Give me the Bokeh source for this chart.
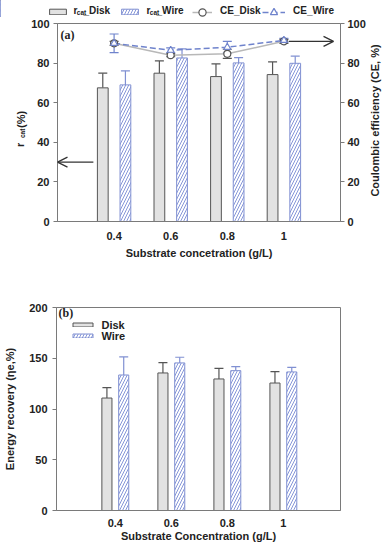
import math
from bokeh.plotting import figure
from bokeh.models import (Range1d, LinearAxis, FixedTicker, Whisker, TeeHead, ColumnDataSource,
                          Legend, LegendItem, Label, Arrow, OpenHead)
from bokeh.layouts import column, row
from bokeh.transform import dodge
from bokeh.embed import file_html
from bokeh.resources import INLINE

# ---------------- data ----------------
conc = [0.4, 0.6, 0.8, 1.0]
conc_labels = ["0.4", "0.6", "0.8", "1"]

rcat_disk = [67.5, 74.9, 73.2, 74.2]
rcat_disk_err = [7.4, 6.2, 6.4, 6.4]
rcat_wire = [69.0, 82.6, 80.1, 79.9]
rcat_wire_err = [7.1, 4.6, 2.7, 3.6]

ce_disk = [90.0, 84.0, 84.7, 91.0]
ce_disk_err = [1.0, 0.8, 2.3, 1.0]
ce_wire = [90.0, 86.5, 88.0, 91.5]
ce_wire_err = [4.7, 1.2, 3.0, 1.0]

er_disk = [110.8, 135.5, 129.6, 125.6]
er_disk_err = [10.2, 10.2, 10.5, 11.2]
er_wire = [133.5, 145.4, 137.8, 136.5]
er_wire_err = [17.8, 5.6, 4.0, 4.5]

rcat_ticks = [0, 20, 40, 60, 80, 100]
er_ticks = [0, 50, 100, 150, 200]

# ---------------- style ----------------
FONT = "Liberation Sans"
SERIF = "Liberation Serif"
AX = "#7a7a7a"
TXT = "#222222"
DISK_FILL = "#e2e2e2"
DISK_LINE = "#555555"
WIRE_LINE = "#8090d2"
WIRE_HATCH = "#8696d8"
CE_DISK_LINE = "#b8b8b8"
CE_WIRE_LINE = "#6f83cc"


def hi(v, e):
    return [a + b for a, b in zip(v, e)]


def lo(v, e):
    return [a - b for a, b in zip(v, e)]


src = ColumnDataSource(dict(
    conc=conc,
    rcat_disk=rcat_disk, rcat_disk_hi=hi(rcat_disk, rcat_disk_err),
    rcat_wire=rcat_wire, rcat_wire_hi=hi(rcat_wire, rcat_wire_err),
    ce_disk=ce_disk, ce_disk_hi=hi(ce_disk, ce_disk_err), ce_disk_lo=lo(ce_disk, ce_disk_err),
    ce_wire=ce_wire, ce_wire_hi=hi(ce_wire, ce_wire_err), ce_wire_lo=lo(ce_wire, ce_wire_err),
    er_disk=er_disk, er_disk_hi=hi(er_disk, er_disk_err),
    er_wire=er_wire, er_wire_hi=hi(er_wire, er_wire_err),
))

DISK_STYLE = dict(fill_color=DISK_FILL, line_color=DISK_LINE, line_width=1)
WIRE_STYLE = dict(fill_color="white", line_color=WIRE_LINE, line_width=1,
                  hatch_pattern="/", hatch_color=WIRE_HATCH, hatch_scale=6, hatch_weight=1)
CE_DISK_LSTYLE = dict(line_color=CE_DISK_LINE, line_width=1.5)
CE_WIRE_LSTYLE = dict(line_color=CE_WIRE_LINE, line_width=1.5, line_dash="6 3")
CE_DISK_MSTYLE = dict(marker="circle", size=7, fill_color="white", line_color=DISK_LINE, line_width=1.2)
CE_WIRE_MSTYLE = dict(marker="triangle", size=7, fill_color="white", line_color=CE_WIRE_LINE, line_width=1.2)


def style_fig(p):
    p.outline_line_color = AX
    p.outline_line_width = 1
    p.xgrid.visible = False
    p.ygrid.visible = False
    p.background_fill_color = "white"
    p.border_fill_color = "white"


def style_axis(ax, xaxis=False):
    ax.axis_line_color = AX
    ax.minor_tick_line_color = None
    ax.major_label_text_font = FONT
    ax.major_label_text_font_style = "bold"
    ax.major_label_text_font_size = "11px"
    ax.major_label_text_color = TXT
    ax.axis_label_text_font = FONT
    ax.axis_label_text_font_style = "bold"
    ax.axis_label_text_font_size = "11px"
    ax.axis_label_text_color = TXT
    if xaxis:
        ax.major_tick_line_color = None
        ax.major_tick_in = 0
        ax.major_tick_out = 0
        ax.ticker = FixedTicker(ticks=conc)
        ax.major_label_overrides = {c: l for c, l in zip(conc, conc_labels)}
    else:
        ax.major_tick_line_color = AX
        ax.major_tick_in = 0
        ax.major_tick_out = 4
        ax.major_label_standoff = 4


def icon_legend(items, x, y, gw, gh, spacing=0):
    return Legend(items=items, location=(x, y), orientation="vertical",
                  glyph_width=gw, glyph_height=gh, label_text_font_size="1px",
                  label_standoff=0, label_width=0, label_height=0, padding=0, margin=0,
                  spacing=spacing, border_line_color=None, background_fill_alpha=0)


def add_label(p, x, y, text, size="10px", bold=True, angle=0, align="left", font=FONT, color=TXT):
    p.add_layout(Label(x=x, y=y, text=text, text_font=font, text_font_size=size,
                       text_font_style="bold" if bold else "normal", angle=angle,
                       text_align=align, text_baseline="middle", text_color=color))


def blank_fig(w, h, x0, x1, y0, y1, top=0, bottom=0):
    # plain drawing strip whose data coordinates equal page pixels
    f = figure(width=w, height=h, x_range=Range1d(x0, x1), y_range=Range1d(y0, y1),
               x_axis_type=None, y_axis_type=None, output_backend="svg", toolbar_location=None,
               min_border=0, min_border_left=0, min_border_right=0,
               min_border_top=top, min_border_bottom=bottom)
    f.outline_line_color = None
    f.background_fill_color = "white"
    f.border_fill_color = "white"
    return f


# ================= legend strip for (a): its own root, page y 0..17 =================
LA = blank_fig(388, 17, 0, 388, 17, 0)
LA.extra_x_ranges = {"off": Range1d(100, 101)}   # legend-source glyphs kept out of view
l_rd = LA.vbar(x="conc", top="rcat_disk", width=0.038, source=src, x_range_name="off", **DISK_STYLE)
l_rw = LA.vbar(x="conc", top="rcat_wire", width=0.038, source=src, x_range_name="off", **WIRE_STYLE)
l_ld = LA.line("conc", "ce_disk", source=src, x_range_name="off", **CE_DISK_LSTYLE)
l_sd = LA.scatter("conc", "ce_disk", source=src, x_range_name="off", **CE_DISK_MSTYLE)
l_lw = LA.line("conc", "ce_wire", source=src, x_range_name="off", **CE_WIRE_LSTYLE)
l_sw = LA.scatter("conc", "ce_wire", source=src, x_range_name="off", **CE_WIRE_MSTYLE)
LA.add_layout(icon_legend([LegendItem(label=" ", renderers=[l_rd])], 47, 2, 21, 7))
LA.add_layout(icon_legend([LegendItem(label=" ", renderers=[l_rw])], 119, 2, 21, 7))
LA.add_layout(icon_legend([LegendItem(label=" ", renderers=[l_ld, l_sd])], 192, -4, 20, 18))
LA.add_layout(icon_legend([LegendItem(label=" ", renderers=[l_lw, l_sw])], 262, -4, 23, 18))
add_label(LA, 73, 9.5, "r", size="10px")
add_label(LA, 76.3, 12, "cat", size="6.5px")
add_label(LA, 83, 9.5, "_Disk", size="10px")
add_label(LA, 146, 9.5, "r", size="10px")
add_label(LA, 149.3, 12, "cat", size="6.5px")
add_label(LA, 156, 9.5, "_Wire", size="10px")
add_label(LA, 219.5, 9.5, "CE_Disk", size="10px")
add_label(LA, 292.5, 9.5, "CE_Wire", size="10px")

# ================= left / right title strips for (a): frames span page y 23..221 =================
YA = blank_fig(28, 259, 0, 28, 221, 23, top=6, bottom=55)
add_label(YA, 19.5, 146.5, "r", size="11px", angle=math.pi / 2)
add_label(YA, 22, 137.5, "cat", size="6.5px", angle=math.pi / 2)
add_label(YA, 20, 127.5, "(%)", size="11px", angle=math.pi / 2)

RA = blank_fig(20, 259, 368, 388, 221, 23, top=6, bottom=55)
add_label(RA, 374.5, 120, "Coulombic efficiency (CE, %)", size="11px", angle=math.pi / 2, align="center")

# ================= panel (a) =================
pa = figure(width=340, height=259, x_range=Range1d(0.2, 1.2), y_range=Range1d(0, 100),
            output_backend="svg", toolbar_location=None,
            min_border_left=28, min_border_right=28, min_border_top=6, min_border_bottom=55)
style_fig(pa)
pa.extra_y_ranges = {"ce": Range1d(0, 100)}


def fa(sx, sy):
    # page pixel -> data of panel (a) (frame spans x 56..340, y 23..221)
    return 0.2 + (sx - 56) / 284.0, (221 - sy) / 198.0 * 100


style_axis(pa.xaxis[0], xaxis=True)
pa.xaxis[0].major_label_standoff = 10
pa.xaxis[0].axis_label = "Substrate concetration (g/L)"
pa.xaxis[0].axis_label_standoff = 4
style_axis(pa.yaxis[0])
pa.yaxis[0].ticker = FixedTicker(ticks=rcat_ticks)

ax_r = LinearAxis(y_range_name="ce", ticker=FixedTicker(ticks=rcat_ticks))
style_axis(ax_r)
ax_r.major_label_standoff = 3
pa.add_layout(ax_r, "right")

rd = pa.vbar(x=dodge("conc", -0.04), top="rcat_disk", width=0.038, source=src, **DISK_STYLE)
rw = pa.vbar(x=dodge("conc", 0.04), top="rcat_wire", width=0.038, source=src, **WIRE_STYLE)

pa.add_layout(Whisker(source=src, base=dodge("conc", -0.04), upper="rcat_disk_hi", lower="rcat_disk",
                      upper_head=TeeHead(size=9, line_color=DISK_LINE, line_width=1.2), lower_head=None,
                      line_color=DISK_LINE, line_width=1.2))
pa.add_layout(Whisker(source=src, base=dodge("conc", 0.04), upper="rcat_wire_hi", lower="rcat_wire",
                      upper_head=TeeHead(size=9, line_color=WIRE_LINE, line_width=1.2), lower_head=None,
                      line_color=WIRE_LINE, line_width=1.2))

ld = pa.line("conc", "ce_disk", source=src, y_range_name="ce", **CE_DISK_LSTYLE)
lw = pa.line("conc", "ce_wire", source=src, y_range_name="ce", **CE_WIRE_LSTYLE)
pa.add_layout(Whisker(source=src, base="conc", upper="ce_disk_hi", lower="ce_disk_lo", y_range_name="ce",
                      upper_head=TeeHead(size=9, line_color=DISK_LINE, line_width=1.2),
                      lower_head=TeeHead(size=9, line_color=DISK_LINE, line_width=1.2),
                      line_color=DISK_LINE, line_width=1.2))
pa.add_layout(Whisker(source=src, base="conc", upper="ce_wire_hi", lower="ce_wire_lo", y_range_name="ce",
                      upper_head=TeeHead(size=9, line_color=CE_WIRE_LINE, line_width=1.2),
                      lower_head=TeeHead(size=9, line_color=CE_WIRE_LINE, line_width=1.2),
                      line_color=CE_WIRE_LINE, line_width=1.2))
sd = pa.scatter("conc", "ce_disk", source=src, y_range_name="ce", **CE_DISK_MSTYLE)
sw = pa.scatter("conc", "ce_wire", source=src, y_range_name="ce", **CE_WIRE_MSTYLE)

add_label(pa, *fa(59, 34), "(a)", size="12px", font=SERIF)

pa.add_layout(Arrow(x_start=fa(92, 162)[0], y_start=30, x_end=0.2, y_end=30,
                    line_color="#333333", line_width=1.3,
                    end=OpenHead(size=10, line_color="#333333", line_width=1.3)))
pa.add_layout(Arrow(x_start=fa(288, 41)[0], y_start=91, x_end=fa(333, 41)[0], y_end=91,
                    line_color="#333333", line_width=1.3,
                    end=OpenHead(size=10, line_color="#333333", line_width=1.3)))

# ================= panel (b) =================
pb = figure(width=388, height=274, x_range=Range1d(0.19, 1.204), y_range=Range1d(0, 200),
            output_backend="svg", toolbar_location=None,
            min_border_left=56, min_border_right=48, min_border_top=31, min_border_bottom=40)
style_fig(pb)


def fb(sx, sy):
    # page pixel -> data of panel (b) (frame spans x 56..340, y 307..510)
    return 0.19 + (sx - 56) / 284.0 * 1.014, (510 - sy) / 203.0 * 200


style_axis(pb.xaxis[0], xaxis=True)
pb.xaxis[0].major_label_standoff = 8
pb.xaxis[0].axis_label = "Substrate Concentration (g/L)"
pb.xaxis[0].axis_label_standoff = 0
style_axis(pb.yaxis[0])
pb.yaxis[0].major_label_standoff = 5
pb.yaxis[0].ticker = FixedTicker(ticks=er_ticks)
pb.yaxis[0].axis_label = "Energy recovery (ηe,%)"
pb.yaxis[0].axis_label_standoff = 10

bd = pb.vbar(x=dodge("conc", -0.03), top="er_disk", width=0.036, source=src, **DISK_STYLE)
bw = pb.vbar(x=dodge("conc", 0.03), top="er_wire", width=0.036, source=src, **WIRE_STYLE)
pb.add_layout(Whisker(source=src, base=dodge("conc", -0.03), upper="er_disk_hi", lower="er_disk",
                      upper_head=TeeHead(size=9, line_color=DISK_LINE, line_width=1.2), lower_head=None,
                      line_color=DISK_LINE, line_width=1.2))
pb.add_layout(Whisker(source=src, base=dodge("conc", 0.03), upper="er_wire_hi", lower="er_wire",
                      upper_head=TeeHead(size=9, line_color=WIRE_LINE, line_width=1.2), lower_head=None,
                      line_color=WIRE_LINE, line_width=1.2))

pb.add_layout(icon_legend([LegendItem(label=" ", renderers=[bd]),
                           LegendItem(label=" ", renderers=[bw])], 14, 172, 25, 5, spacing=6))
add_label(pb, *fb(101, 324.3), "Disk", size="11px")
add_label(pb, *fb(101, 335.7), "Wire", size="11px")
add_label(pb, *fb(58, 312), "(b)", size="12px", font=SERIF)

main = column(row(YA, pa, RA, spacing=0), pb, spacing=0)
open("out.html", "w").write(file_html([LA, main], INLINE))
